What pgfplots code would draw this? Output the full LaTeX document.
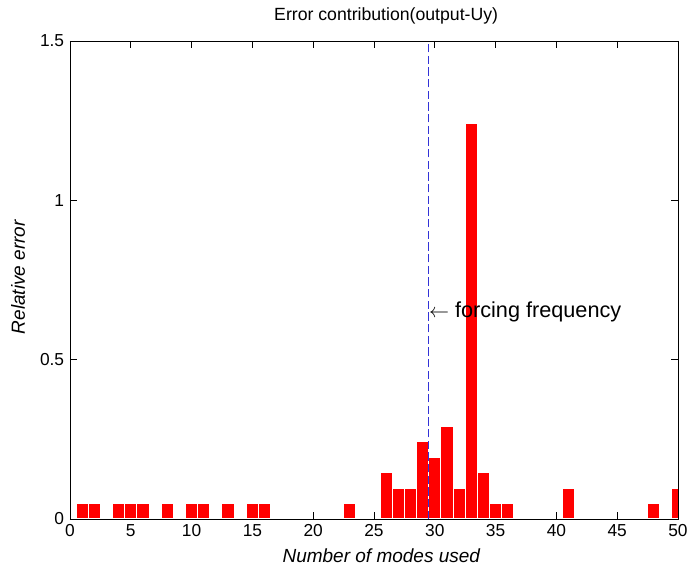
\documentclass[border=0pt]{standalone}
\usepackage{fontspec}
\setmainfont{Liberation Sans}
\usepackage{pgfplots}
\pgfplotsset{compat=1.18}
\definecolor{mlblue}{RGB}{50,50,215}
\begin{document}
\begin{tikzpicture}
\begin{axis}[
  width=364.8pt, height=286.8pt, scale only axis,
  xmin=0, xmax=50, ymin=0, ymax=1.5,
  xtick={0,5,...,50}, ytick={0,0.5,1,1.5},
  tick align=inside, major tick length=4pt,
  tick style={black, thin},
  axis line style={black, thin},
  ticklabel style={font=\fontsize{10.4}{12}\selectfont},
  /pgf/number format/assume math mode=true,
  title={Error contribution(output-Uy)},
  title style={font=\fontsize{10.6}{12}\selectfont, at={(axis description cs:0.52,1.031)}, anchor=center},
  xlabel={\itshape Number of modes used},
  ylabel={\itshape Relative error},
  label style={font=\fontsize{11.4}{13}\selectfont},
  xlabel style={at={(axis description cs:0.512,-0.077)}, anchor=center},
  ylabel style={at={(axis description cs:-0.0855,0.506)}, anchor=center},
]
% histogram of relative error per mode
\addplot[ybar, bar width=1, fill=red, draw=white, line width=0.6pt] coordinates {
  (1,0.05) (2,0.05) (4,0.05) (5,0.05) (6,0.05) (8,0.05) (10,0.05) (11,0.05)
  (13,0.05) (15,0.05) (16,0.05) (23,0.05)
  (26,0.145) (27,0.097) (28,0.097) (29,0.242) (30,0.194) (31,0.289)
  (32,0.097) (33,1.242) (34,0.145) (35,0.048) (36,0.048)
  (41,0.097) (48,0.048) (50,0.097)
};
% forcing frequency marker
\addplot[mlblue, dash pattern=on 5pt off 2pt, line width=0.7pt] coordinates {(29.5,0) (29.5,1.5)};
\node[anchor=west, inner sep=0pt, font=\fontsize{13}{15}\selectfont] at (axis cs:29.5,0.65) {$\leftarrow$ forcing frequency};
\coordinate (bl) at (rel axis cs:0,0);
\coordinate (tr) at (rel axis cs:1,1);
\end{axis}
\pgfresetboundingbox
\path (bl) ++(-42pt,-30.6pt) coordinate (p1);
\path (tr) ++(6.6pt,24.6pt) coordinate (p2);
\useasboundingbox (p1) rectangle (p2);
\end{tikzpicture}
\end{document}
